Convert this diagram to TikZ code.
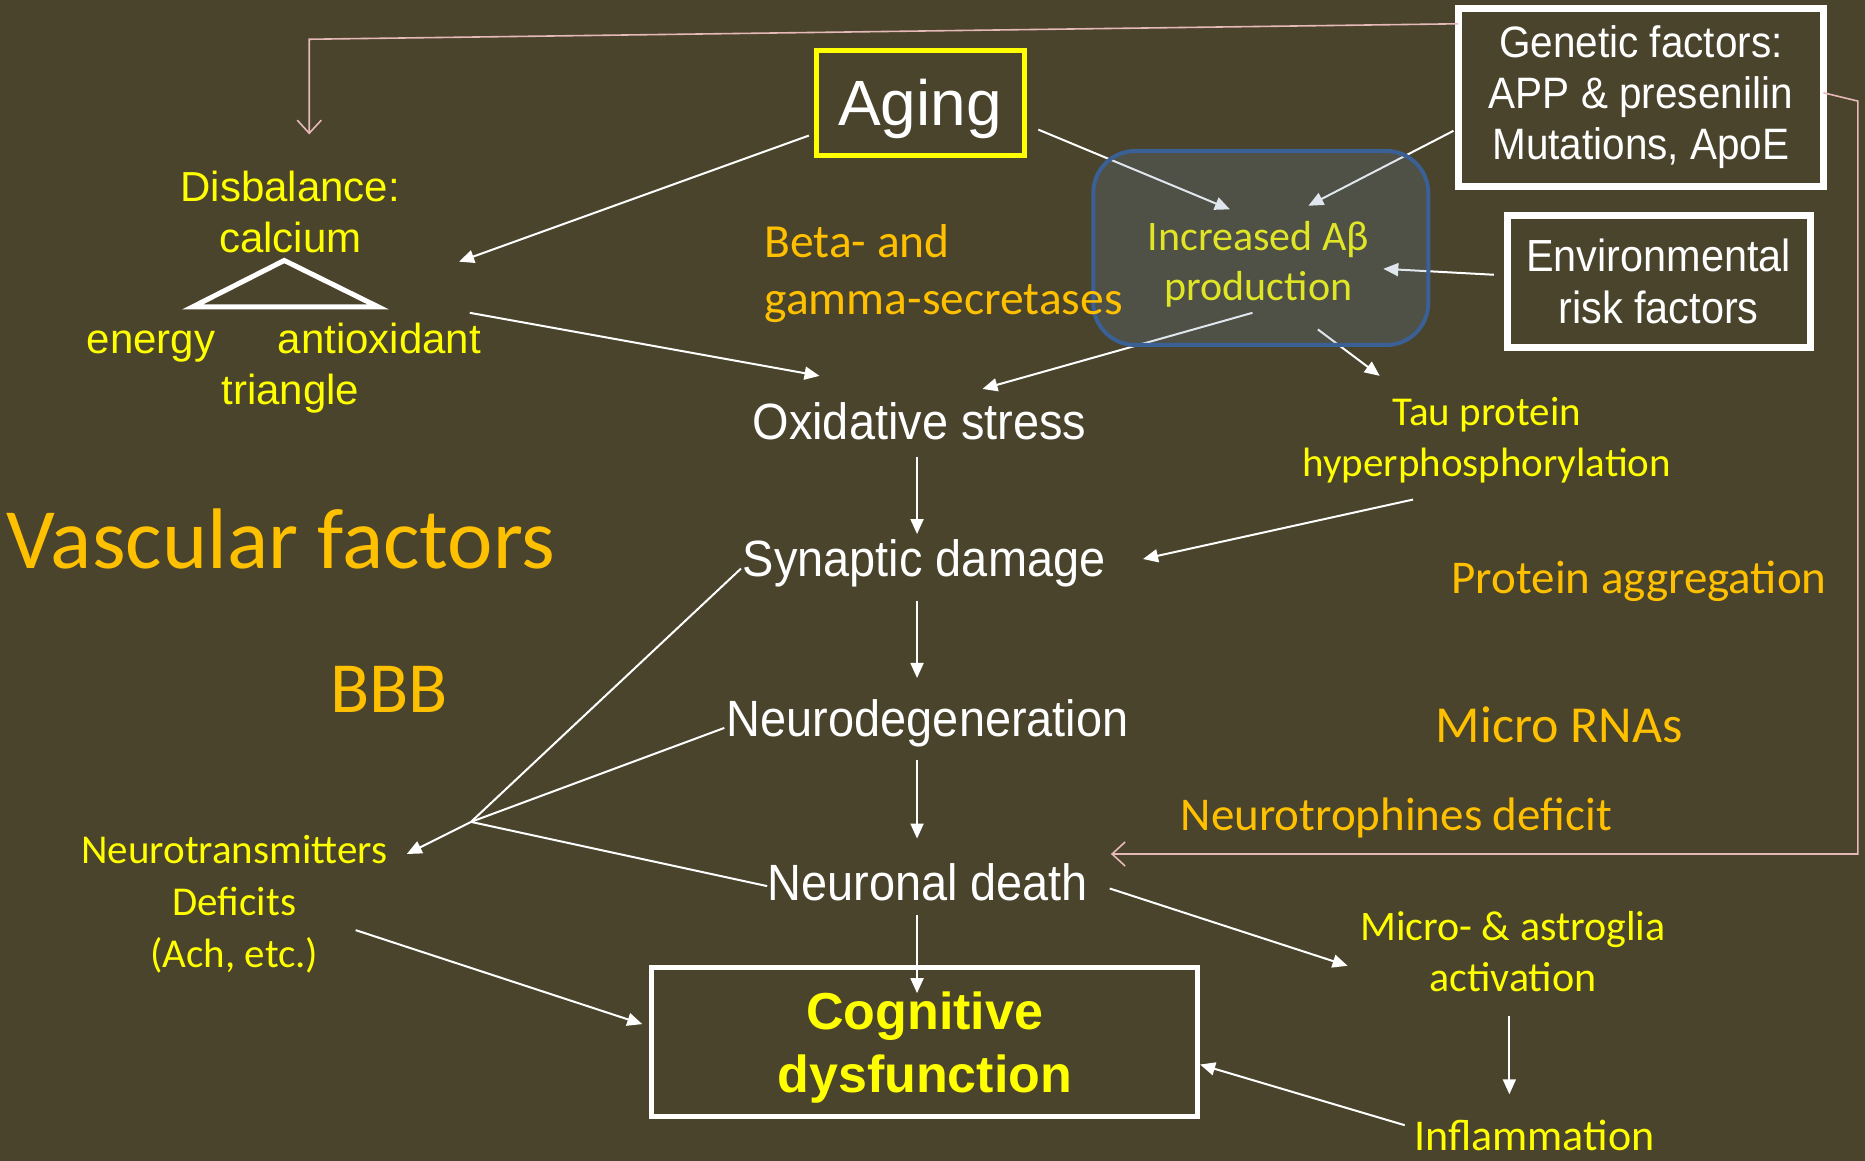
\documentclass[tikz,border=0pt]{standalone}
\usepackage{fontspec}
\setmainfont{Liberation Sans}
\newfontfamily\arialf{Liberation Sans}
\newfontfamily\arialn[FakeStretch=0.92]{Liberation Sans}
\newfontfamily\calib{Carlito}
\usetikzlibrary{arrows.meta}
\definecolor{bg}{HTML}{4A442D}
\definecolor{yel}{HTML}{FFFF00}
\definecolor{orng}{HTML}{FFC000}
\definecolor{pinkc}{HTML}{E6B9B8}
\definecolor{boxblue}{HTML}{3B6095}
\definecolor{boxfill}{HTML}{6482AA}
\definecolor{abeta}{HTML}{E0E626}
\begin{document}
\begin{tikzpicture}[x=1.1894pt,y=-1.1894pt,
  arr/.style={draw=white,line width=2pt,-{Triangle[length=15pt,width=13pt]}},
  plainln/.style={draw=white,line width=2pt},
  pinkarr/.style={draw=pinkc,line width=1.6pt,-{Straight Barb[length=13pt,width=24pt,line width=1.6pt]}},
  wtxt/.style={text=white,font=\arialn\fontsize{51}{61}\selectfont,inner sep=2pt},
  ytxt/.style={text=yel,align=center,inner sep=2pt},
  otxt/.style={text=orng,inner sep=2pt},
  whitebox/.style={draw=white,line width=7pt,align=center,text=white,inner sep=0pt}
]
\fill[bg] (0,0) rectangle (1568,976);
\useasboundingbox (0,0) rectangle (1568,976);

% ---- arrows into the blue box (drawn beneath its translucent fill)
\coordinate (agR) at (873,109);
\coordinate (abIn1) at (1034,176);
\coordinate (genL) at (1222,110);
\coordinate (abIn2) at (1100,173);
\coordinate (envL) at (1256,231);
\coordinate (abIn3) at (1163,226);
\coordinate (abOut1) at (1053,263);
\coordinate (oxiIn2) at (826,327);
\coordinate (abOut2) at (1108,277);
\coordinate (tauIn) at (1160,316);
\draw[arr] (agR) -- (abIn1);
\draw[arr] (genL) -- (abIn2);
\draw[arr] (envL) -- (abIn3);
\draw[arr] (abOut1) -- (oxiIn2);
\draw[arr] (abOut2) -- (tauIn);

% ---- blue rounded box
\node[draw=boxblue,line width=4pt,fill=boxfill,fill opacity=0.2,text opacity=1,
  rounded corners=42pt,minimum width=335pt,minimum height=194pt,inner sep=0pt] (abox) at (1060,208.5) {};
\node[text=abeta,align=center,font=\calib\fontsize{42}{50}\selectfont] (abeta) at (1058,222) {Increased Aβ\\production};

% ---- boxes
\node[draw=yel,line width=5pt,minimum width=208pt,minimum height=105pt,inner sep=0pt] (aging) at (773.5,87) {};
\node[text=white,font=\arialf\fontsize{64}{70}\selectfont,inner sep=0pt] (agingtxt) at (773.5,92) {Aging};
\node[whitebox,minimum width=365pt,minimum height=178pt,
  font=\arialn\fontsize{44}{51}\selectfont] (genetic) at (1379.5,82) {Genetic factors:\\APP \& presenilin\\Mutations, ApoE};
\node[whitebox,minimum width=303pt,minimum height=132pt,
  font=\arialn\fontsize{45}{52}\selectfont] (env) at (1394.5,236.5) {Environmental\\risk factors};
\node[draw=white,line width=5pt,minimum width=546pt,minimum height=149pt,inner sep=0pt] (cog) at (777.5,876) {};
\node[align=center,text=yel,font=\arialf\bfseries\fontsize{52}{63}\selectfont,inner sep=0pt] (cogtxt) at (777.5,881) {Cognitive\\dysfunction};

% ---- left cluster
\node[ytxt,font=\arialf\fontsize{42}{51}\selectfont] (disb) at (244,178) {Disbalance:\\calcium};
\node[ytxt,anchor=base,font=\arialf\fontsize{42}{51}\selectfont] (energy) at (127,297) {energy};
\node[ytxt,anchor=base,font=\arialf\fontsize{42}{51}\selectfont] (antiox) at (319,297) {antioxidant};
\node[ytxt,anchor=base,font=\arialf\fontsize{42}{51}\selectfont] (trilab) at (244,340) {triangle};
\draw[white,line width=5pt,line join=miter] (239,219) -- (162,258) -- (318,258) -- cycle;

\node[otxt,anchor=west,align=left,font=\calib\fontsize{47.5}{57}\selectfont] (beta) at (641,230) {Beta- and\\gamma-secretases};

\node[otxt,anchor=west,font=\calib\fontsize{86}{94}\selectfont] (vasc) at (4,453) {Vascular factors};
\node[otxt,font=\calib\fontsize{72}{80}\selectfont] (bbb) at (327,580) {BBB};
\node[ytxt,font=\calib\fontsize{41}{52}\selectfont] (nt) at (197,760) {Neurotransmitters\\Deficits\\(Ach, etc.)};

% ---- central chain
\node[wtxt] (oxi) at (773,354) {Oxidative stress};
\node[wtxt] (syn) at (777,474) {Synaptic damage};
\node[wtxt] (neuro) at (780,608) {Neurodegeneration};
\node[wtxt] (death) at (780,742) {Neuronal death};

% ---- right cluster
\node[ytxt,font=\calib\fontsize{41}{51}\selectfont] (tau) at (1250,370) {Tau protein\\hyperphosphorylation};
\node[otxt,font=\calib\fontsize{47}{55}\selectfont] (protagg) at (1378,489) {Protein aggregation};
\node[otxt,font=\calib\fontsize{52}{60}\selectfont] (mirna) at (1311,609) {Micro RNAs};
\node[otxt,font=\calib\fontsize{47}{55}\selectfont] (ntroph) at (1174,688) {Neurotrophines deficit};
\node[ytxt,font=\calib\fontsize{42}{51}\selectfont] (micro) at (1272,800) {Micro- \& astroglia\\activation};
\node[ytxt,font=\calib\fontsize{44}{52}\selectfont] (inflam) at (1290,955) {Inflammation};

% ---- connector end points
\coordinate (agL) at (680,114);
\coordinate (disbR) at (386,220);
\coordinate (disbOut) at (395,263);
\coordinate (oxiIn1) at (689,316);
\coordinate (tauOut) at (1188,420);
\coordinate (synR) at (961,470);
\coordinate (hub) at (396,691);
\coordinate (synL) at (623,478);
\coordinate (neuroL) at (609,612);
\coordinate (deathL) at (645,745);
\coordinate (ntR) at (342,718);
\coordinate (ntOut) at (299,782);
\coordinate (cogL) at (540,861);
\coordinate (deathR) at (933,747);
\coordinate (microIn) at (1133,812);
\coordinate (microOut) at (1269,854);
\coordinate (inflamIn) at (1269,920);
\coordinate (inflamL) at (1181,946);
\coordinate (cogR) at (1009,895);
\coordinate (genTop) at (1226,20);
\coordinate (pk1) at (260,33);
\coordinate (disbTop) at (260,113);
\coordinate (genRight) at (1533,78);
\coordinate (pk2) at (1562,85);
\coordinate (pk3) at (1562,718);
\coordinate (deathPink) at (934,718);

% ---- connectors
\draw[arr] (agL) -- (disbR);
\draw[arr] (disbOut) -- (oxiIn1);
\draw[arr] (771,384) -- (771,449);
\draw[arr] (771,505) -- (771,570);
\draw[arr] (771,639) -- (771,705);
\draw[arr] (771,769) -- (771,835);
\draw[arr] (tauOut) -- (synR);
\draw[plainln] (synL) -- (hub);
\draw[plainln] (neuroL) -- (hub);
\draw[plainln] (deathL) -- (hub);
\draw[arr] (hub) -- (ntR);
\draw[arr] (ntOut) -- (cogL);
\draw[arr] (deathR) -- (microIn);
\draw[arr] (microOut) -- (inflamIn);
\draw[arr] (inflamL) -- (cogR);
\draw[pinkarr] (genTop) -- (pk1) -- (disbTop);
\draw[pinkarr] (genRight) -- (pk2) -- (pk3) -- (deathPink);
\end{tikzpicture}
\end{document}
